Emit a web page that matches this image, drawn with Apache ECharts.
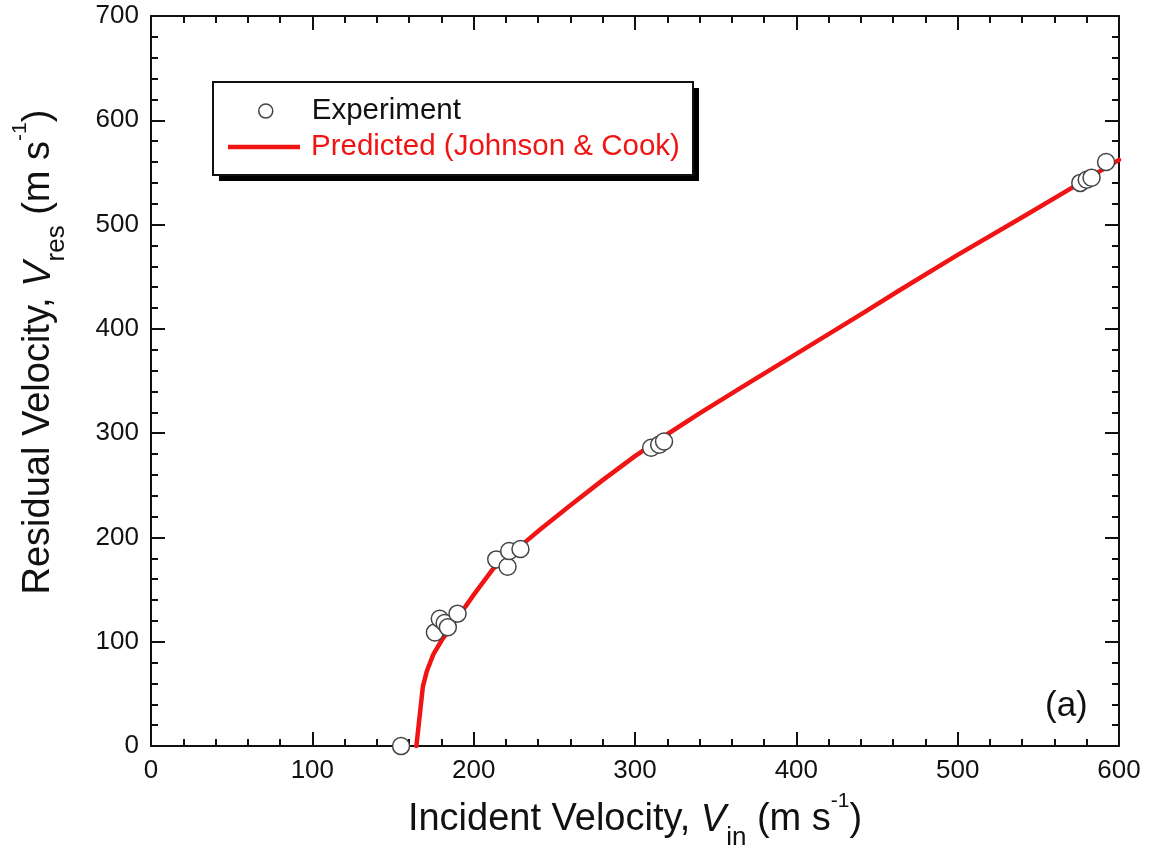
<!DOCTYPE html>
<html>
<head>
<meta charset="utf-8">
<script src="https://cdn.jsdelivr.net/npm/echarts@6/dist/echarts.min.js"></script>
<style>
  html, body { margin: 0; padding: 0; background: #fff; }
  #chart { width: 1150px; height: 856px; }
</style>
</head>
<body>
<div id="chart"></div>
<script>
// Measured residual velocities (m/s) against incident velocity (m/s)
const expIncident = [155, 176, 179, 182, 184, 190, 214, 221, 222, 229, 310, 315, 318, 576, 580, 583, 592];
const expResidual = [0, 109, 122, 118, 114, 127, 179, 172, 187, 189, 286, 289, 292, 540, 543, 545, 560];

// Johnson & Cook prediction, sampled along the curve
const predIncident = [164.5, 168.5, 171, 175, 180, 185, 190, 195, 200, 212, 222, 233, 241, 260, 280, 300, 320, 340, 365, 400, 440, 465, 500, 540, 576, 600];
const predResidual = [0, 57, 72, 88, 101, 112, 124, 134, 145, 170, 183, 197, 207.5, 231, 255, 278, 299, 319, 343, 376, 414, 438, 471, 507, 540, 562];

const xTicks = { min: 0, max: 600, interval: 100 };
const yTicks = { min: 0, max: 700, interval: 100 };

const FONT = '"Liberation Sans", Arial, sans-serif';
const RED = '#f01414';
const INK = '#111';

const expData = expIncident.map((x, i) => [x, expResidual[i]]);
const predData = predIncident.map((x, i) => [x, predResidual[i]]);

// Axis titles: italic symbol with subscript, unit with superscript
const titleRich = {
  n: { fontSize: 38, fontFamily: FONT, color: INK, lineHeight: 40 },
  i: { fontSize: 38, fontFamily: FONT, color: INK, lineHeight: 40, fontStyle: 'italic' },
  sub: { fontSize: 26, fontFamily: FONT, color: INK, lineHeight: 26, padding: [36, 0, 0, 0] },
  sup: { fontSize: 21, fontFamily: FONT, color: INK, lineHeight: 20, padding: [0, 0, 38, 0] }
};

function mainAxis(range, pos, extra) {
  return Object.assign({
    type: 'value',
    position: pos,
    min: range.min, max: range.max, interval: range.interval,
    axisLine: { show: true, onZero: false, lineStyle: { color: INK, width: 2 } },
    axisTick: { show: true, inside: true, length: 14, lineStyle: { color: INK, width: 2 } },
    minorTick: { show: true, splitNumber: 5, length: 7, lineStyle: { color: INK, width: 2 } },
    splitLine: { show: false },
    axisLabel: { show: true, fontSize: 26, fontFamily: FONT, color: INK, margin: 12 }
  }, extra || {});
}

function mirrorAxis(range, pos) {
  return mainAxis(range, pos, { axisLabel: { show: false } });
}

const chart = echarts.init(document.getElementById('chart'), null, { renderer: 'canvas' });

chart.setOption({
  backgroundColor: '#fff',
  animation: false,
  grid: { left: 151, right: 31, top: 16, bottom: 109, containLabel: false },
  xAxis: [
    mainAxis(xTicks, 'bottom', {
      name: '{n|Incident Velocity, }{i|V}{sub|in}{n| (m s}{sup|-1}{n|)}',
      nameLocation: 'middle',
      nameGap: 40,
      nameTextStyle: { rich: titleRich }
    }),
    mirrorAxis(xTicks, 'top')
  ],
  yAxis: [
    mainAxis(yTicks, 'left', {
      name: '{n|Residual Velocity, }{i|V}{sub|res}{n| (m s}{sup|-1}{n|)}',
      nameLocation: 'middle',
      nameGap: 92,
      nameTextStyle: { rich: titleRich, padding: [0, 0, 0, 58] }
    }),
    mirrorAxis(yTicks, 'right')
  ],
  legend: [
    {
      orient: 'vertical',
      left: 258,
      top: 96,
      padding: 0,
      itemWidth: 14,
      itemHeight: 14,
      z: 10,
      textStyle: { fontSize: 29.5, fontFamily: FONT, padding: [0, 0, 0, 34] },
      data: [
        { name: 'Experiment', icon: 'circle', textStyle: { color: INK },
          itemStyle: { color: '#fff', borderColor: '#444', borderWidth: 1.5 } }
      ]
    },
    {
      orient: 'vertical',
      left: 228,
      top: 132,
      padding: 0,
      itemWidth: 72,
      itemHeight: 4.5,
      z: 10,
      textStyle: { fontSize: 29.5, fontFamily: FONT, padding: [0, 0, 0, 6] },
      data: [
        { name: 'Predicted (Johnson & Cook)', icon: 'rect', textStyle: { color: RED },
          itemStyle: { color: RED } }
      ]
    }
  ],
  graphic: [
    // legend frame with its drop shadow
    {
      type: 'rect', z: 5,
      shape: { x: 219, y: 88, width: 480, height: 93 },
      style: { fill: '#000' }
    },
    {
      type: 'rect', z: 6,
      shape: { x: 213, y: 82, width: 480, height: 93 },
      style: { fill: '#fff', stroke: INK, lineWidth: 2 }
    },
    {
      type: 'text', z: 6,
      left: 1045,
      top: 689,
      style: { text: '(a)', fontSize: 35, fontFamily: FONT, fill: INK }
    }
  ],
  series: [
    {
      name: 'Predicted (Johnson & Cook)',
      type: 'line',
      data: predData,
      showSymbol: false,
      symbol: 'none',
      smooth: false,
      lineStyle: { color: RED, width: 4.5, join: 'round', cap: 'round' },
      itemStyle: { color: RED },
      z: 2
    },
    {
      name: 'Experiment',
      type: 'scatter',
      data: expData,
      symbol: 'circle',
      symbolSize: 17,
      clip: false,
      itemStyle: { color: '#fff', borderColor: '#444', borderWidth: 1.5, opacity: 1 },
      z: 3
    }
  ]
});
</script>
</body>
</html>
